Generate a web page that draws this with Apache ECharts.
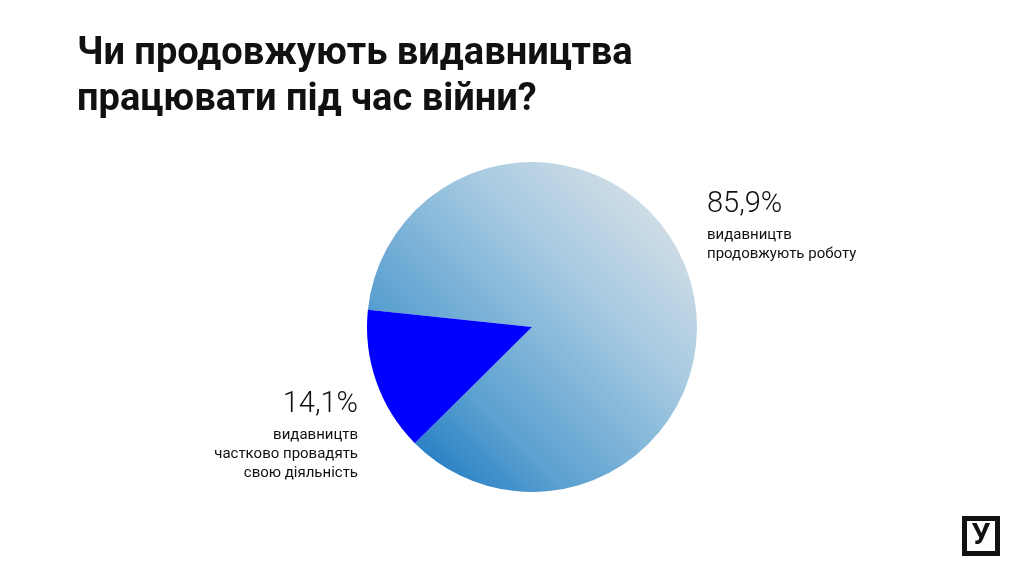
<!DOCTYPE html><html><head><meta charset="utf-8"><script src="https://cdn.jsdelivr.net/npm/echarts@6/dist/echarts.min.js"></script>
<style>html,body{margin:0;background:#fff}#c{width:1033px;height:579px}</style></head><body><div id="c"></div><script>
const categories=['видавництв продовжують роботу','видавництв частково провадять свою діяльність'];
const values=[85.9,14.1];
const pctLabels=['85,9%','14,1%'];
const descLines=[['видавництв','продовжують роботу'],['видавництв','частково провадять','свою діяльність']];
const chart=echarts.init(document.getElementById('c'));
const F='Roboto, "Noto Sans", sans-serif';
function desc(i,x,y,align){
  const els=[{type:'text',x:x,y:y,style:{text:pctLabels[i],font:'300 29px '+F,fill:'#111',textAlign:align}}];
  descLines[i].forEach((t,k)=>els.push({type:'text',x:x,y:y+38+k*19,style:{text:t,font:'15px '+F,fill:'#111',textAlign:align}}));
  return els;
}
chart.setOption({
  title:{text:'Чи продовжують видавництва\nпрацювати під час війни?',left:72,top:26,textStyle:{fontFamily:F,fontSize:38,fontWeight:'bold',color:'#111',lineHeight:46}},
  series:[{type:'pie',center:[532,327],radius:[0,165],startAngle:174,clockwise:true,label:{show:false},labelLine:{show:false},silent:true,
    data:[
      {name:categories[0],value:values[0],itemStyle:{color:new echarts.graphic.LinearGradient(1,0,0,1,[{offset:0,color:'#e8e8e8'},{offset:0.35,color:'#a9cbe2'},{offset:0.7,color:'#5aa0d0'},{offset:1,color:'#0066bb'}])}},
      {name:categories[1],value:values[1],itemStyle:{color:'#0000ff'}}
    ]}],
  graphic:[...desc(0,707,190,'left'),...desc(1,358,390,'right'),
    {type:'rect',shape:{x:962,y:516,width:38,height:40},style:{fill:'#111'}},
    {type:'rect',shape:{x:967,y:521,width:28,height:30},style:{fill:'#fff'}},
    {type:'text',x:981,y:536,style:{text:'У',font:'bold 30px '+F,fill:'#111',textAlign:'center',textVerticalAlign:'middle'}}
  ]
});
</script></body></html>
